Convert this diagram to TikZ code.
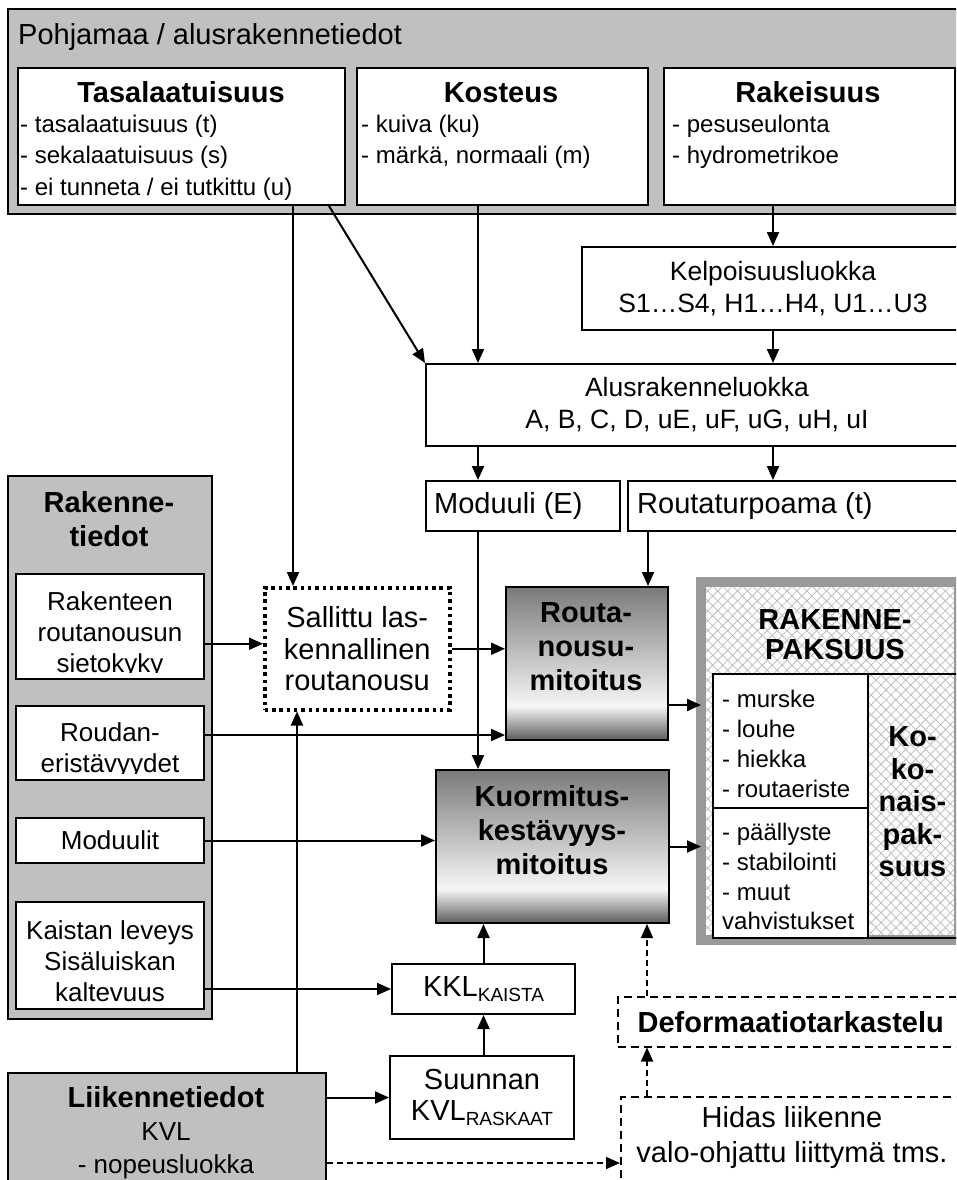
\documentclass[tikz,border=0pt]{standalone}
\usepackage{fontspec}
\setmainfont{Liberation Sans}
\usetikzlibrary{arrows.meta,calc,patterns.meta}

\definecolor{basegray}{HTML}{C0C0C0}
\definecolor{framegray}{HTML}{999999}
\definecolor{hatchgray}{HTML}{BEBEBE}
\definecolor{shadetop}{HTML}{7A7A7A}
\definecolor{shadelight}{HTML}{F6F6F6}
\definecolor{shadebot}{HTML}{5C5C5C}
\pgfdeclareverticalshading{mitoitus}{100bp}{color(0bp)=(shadebot); color(25bp)=(shadebot); color(36bp)=(shadelight); color(75bp)=(shadetop); color(100bp)=(shadetop)}

\tikzset{
  box/.style={draw, line width=2pt, fill=white, inner sep=0pt, anchor=north west},
  graybox/.style={box, fill=basegray},
  cell/.style={box, fill=none},
  dotbox/.style={box, line width=3.5pt, dash pattern=on 3.5pt off 3.8pt},
  dashbox/.style={box, line width=1.5pt, dash pattern=on 8pt off 5pt},
  shadebox/.style={box, shade, shading=mitoitus},
  paksbox/.style={draw=framegray, line width=10pt, inner sep=0pt, anchor=north west,
    pattern={Hatch[angle=45,distance=7pt,line width=0.8pt]}, pattern color=hatchgray},
  arr/.style={line width=2pt, -{Triangle[length=14pt,width=12pt]}},
  darr/.style={arr, line width=1.5pt, dash pattern=on 6pt off 4pt},
  item/.style={inner sep=0pt, anchor=base west, font=\fontsize{24}{30}\selectfont},
  big/.style={inner sep=0pt, font=\fontsize{29}{34}\selectfont},
  head/.style={inner sep=0pt, font=\fontsize{29}{34}\selectfont\bfseries},
  mid/.style={inner sep=0pt, font=\fontsize{26}{31}\selectfont}
}

\begin{document}
\begin{tikzpicture}[x=1pt, y=-1pt]
	\useasboundingbox (0,0) rectangle (956,1180);
	\fill [white] (0,0) rectangle (956,1180);
	\clip (0,0) rectangle (956,1180);

	\node [graybox, minimum width=962pt, minimum height=205pt] (pohja) at (7,8) {};
	\node [big, anchor=base west] (t-pohja) at (18,45) {Pohjamaa / alusrakennetiedot};

	\node [box, minimum width=327pt, minimum height=137pt] (tasa) at (17,67) {};
	\node [head, anchor=base] (h-tasa) at (181,103) {Tasalaatuisuus};
	\node [item] (i-tasa1) at (20,132) {- tasalaatuisuus (t)};
	\node [item] (i-tasa2) at (20,163) {- sekalaatuisuus (s)};
	\node [item] (i-tasa3) at (20,195) {- ei tunneta / ei tutkittu (u)};

	\node [box, minimum width=291pt, minimum height=137pt] (kost) at (356,67) {};
	\node [head, anchor=base] (h-kost) at (501,103) {Kosteus};
	\node [item] (i-kost1) at (361,132) {- kuiva (ku)};
	\node [item] (i-kost2) at (361,163) {- märkä, normaali (m)};

	\node [box, minimum width=291pt, minimum height=137pt] (rake) at (663,67) {};
	\node [head, anchor=base] (h-rake) at (808,103) {Rakeisuus};
	\node [item] (i-rake1) at (672,132) {- pesuseulonta};
	\node [item] (i-rake2) at (672,163) {- hydrometrikoe};

	\node [box, minimum width=382pt, minimum height=83pt, align=center, font=\fontsize{26.5}{32}\selectfont] (kelp) at (581,246) {Kelpoisuusluokka\\S1…S4, H1…H4, U1…U3};
	\node [box, minimum width=542pt, minimum height=82pt, align=center, font=\fontsize{26.5}{32}\selectfont] (alus) at (425,363) {Alusrakenneluokka\\A, B, C, D, uE, uF, uG, uH, uI};

	\node [box, minimum width=194pt, minimum height=50pt] (modu) at (425,480) {};
	\node [big, anchor=west] (t-modu) at ($(modu.west)+(9,0)$) {Moduuli (E)};
	\node [box, minimum width=340pt, minimum height=50pt] (rtp) at (627,480) {};
	\node [big, anchor=west] (t-rtp) at ($(rtp.west)+(10,0)$) {Routaturpoama (t)};

	\node [graybox, minimum width=204pt, minimum height=543pt] (rakenne) at (7,475) {};
	\node [head, align=center] (h-rakenne) at (109,519) {Rakenne-\\tiedot};
	\node [box, minimum width=188pt, minimum height=105pt] (rsk) at (15,573) {};
	\begin{scope}
		\clip (rsk.north west) rectangle ($(rsk.south east)+(0,-8)$);
		\node [mid, align=center] (t-rsk) at ($(rsk.center)+(0,8)$) {Rakenteen\\routanousun\\sietokyky};
	\end{scope}
	\node [box, minimum width=188pt, minimum height=74pt] (reris) at (15,705) {};
	\begin{scope}
		\clip (reris.north west) rectangle ($(reris.south east)+(0,-8)$);
		\node [mid, align=center] (t-reris) at ($(reris.center)+(0,7)$) {Roudan-\\eristävyydet};
	\end{scope}
	\node [box, minimum width=188pt, minimum height=45pt, mid] (modl) at (15,817) {Moduulit};
	\node [box, minimum width=188pt, minimum height=107pt] (kais) at (15,901) {};
	\begin{scope}
		\clip (kais.north west) rectangle ($(kais.south east)+(0,-8)$);
		\node [mid, align=center] (t-kais) at ($(kais.center)+(0,6)$) {Kaistan leveys\\Sisäluiskan\\kaltevuus};
	\end{scope}

	\node [dotbox, minimum width=185pt, minimum height=122pt, align=center, font=\fontsize{29}{31.5}\selectfont] (salli) at (263,586) {Sallittu las-\\kennallinen\\routanousu};

	\node [shadebox, minimum width=162pt, minimum height=153pt] (rnm) at (505,586) {};
	\node [head, align=center] (t-rnm) at (586,647) {Routa-\\nousu-\\mitoitus};
	\node [shadebox, minimum width=233pt, minimum height=153pt] (kkm) at (435,769) {};
	\node [head, align=center] (t-kkm) at (552,830) {Kuormitus-\\kestävyys-\\mitoitus};

	\node [paksbox, minimum width=258pt, minimum height=358pt] (paks) at (701,582) {};
	\node [head, align=center, font=\fontsize{29}{30}\selectfont\bfseries] (h-paks) at (835,635) {RAKENNE-\\PAKSUUS};
	\node [box, minimum width=155pt, minimum height=134pt] (lcol1) at (712,673) {};
	\node [box, minimum width=155pt, minimum height=130pt] (lcol2) at (712,807) {};
	\node [cell, minimum width=92pt, minimum height=264pt] (rcol) at (867,673) {};
	\node [item] (i-mur) at (722,707) {- murske};
	\node [item] (i-lou) at (722,737) {- louhe};
	\node [item] (i-hie) at (722,767) {- hiekka};
	\node [item] (i-rou) at (722,797) {- routaeriste};
	\node [item] (i-paa) at (722,840) {- päällyste};
	\node [item] (i-sta) at (722,870) {- stabilointi};
	\node [item] (i-muu) at (722,900) {- muut};
	\node [item] (i-vah) at (722,929) {vahvistukset};
	\node [head, align=center, font=\fontsize{29}{32.5}\selectfont\bfseries] (h-koko) at (912.5,802) {Ko-\\ko-\\nais-\\pak-\\suus};

	\node [box, minimum width=183pt, minimum height=50pt, big] (kkl) at (391,963) {KKL\raisebox{-5pt}{\fontsize{19}{19}\selectfont KAISTA}};
	\node [box, minimum width=184pt, minimum height=83pt, big, align=center, font=\fontsize{29}{31}\selectfont] (suun) at (389,1055) {Suunnan\\KVL\raisebox{-5pt}{\fontsize{19}{19}\selectfont RASKAAT}};

	\node [graybox, minimum width=318pt, minimum height=140pt] (liik) at (7,1072) {};
	\node [head, anchor=base] (h-liik) at (166,1107) {Liikennetiedot};
	\node [mid, anchor=base] (t-kvl) at (166,1140) {KVL};
	\node [mid, anchor=base] (t-nop) at (166,1173) {- nopeusluokka};

	\node [dashbox, minimum width=346pt, minimum height=50pt, head] (defo) at (617,996) {Deformaatiotarkastelu};
	\node [dashbox, minimum width=344pt, minimum height=110pt] (hidas) at (620,1096) {};
	\node [big, align=center, font=\fontsize{29}{35}\selectfont] (t-hidas) at (792,1137) {Hidas liikenne\\valo-ohjattu liittymä tms.};

	\coordinate (xsal) at ($(salli.north west)+(30,0)$);
	\coordinate (xmod) at ($(modu.north west)+(53,0)$);
	\coordinate (xrtp) at ($(rnm.north east)+(-21,0)$);
	\coordinate (ysal) at ($(salli.west)+(0,-5)$);
	\coordinate (yrer) at ($(rnm.south west)+(0,-6)$);
	\coordinate (xliik) at ($(salli.south west)+(34,0)$);
	\coordinate (yhid) at ($(hidas.north west)+(0,67)$);
	\coordinate (xdef) at ($(hidas.north west)+(27,0)$);
	\coordinate (yrnm) at ($(rnm.south east)+(0,-36)$);

	\draw [arr] (tasa.south -| xsal) -- (xsal);
	\draw [arr] ($(tasa.south east)+(-17,0)$) -- (alus.north west);
	\draw [arr] (kost.south -| xmod) -- (alus.north -| xmod);
	\draw [arr] (rake.south -| kelp.north) -- (kelp.north);
	\draw [arr] (kelp.south) -- (kelp.south |- alus.north);
	\draw [arr] (alus.south -| xmod) -- (xmod);
	\draw [arr] (alus.south -| kelp.south) -- (rtp.north -| kelp.south);
	\draw [arr] (rtp.south -| xrtp) -- (xrtp);
	\draw [arr] (modu.south -| xmod) -- (kkm.north -| xmod);
	\draw [arr] (salli.east) -- (salli.east -| rnm.west);
	\draw [arr] (rsk.east |- ysal) -- (ysal);
	\draw [arr] (reris.east |- yrer) -- (yrer);
	\draw [arr] (modl.east) -- (modl.east -| kkm.west);
	\draw [arr] (kais.east |- kkl.west) -- (kkl.west);
	\draw [arr] (kkl.north) -- (kkl.north |- kkm.south);
	\draw [arr] (kkl.south |- suun.north) -- (kkl.south);
	\draw [arr] (liik.east |- suun.west) -- (suun.west);
	\draw [arr] (liik.north -| xliik) -- (xliik);
	\draw [darr] (liik.east |- yhid) -- (yhid);
	\draw [darr] (xdef) -- (defo.south -| xdef);
	\draw [darr] (defo.north -| xdef) -- (kkm.south -| xdef);
	\draw [arr] (yrnm) -- (yrnm -| paks.west);
	\draw [arr] (kkm.east) -- (kkm.east -| paks.west);
\end{tikzpicture}
\end{document}
